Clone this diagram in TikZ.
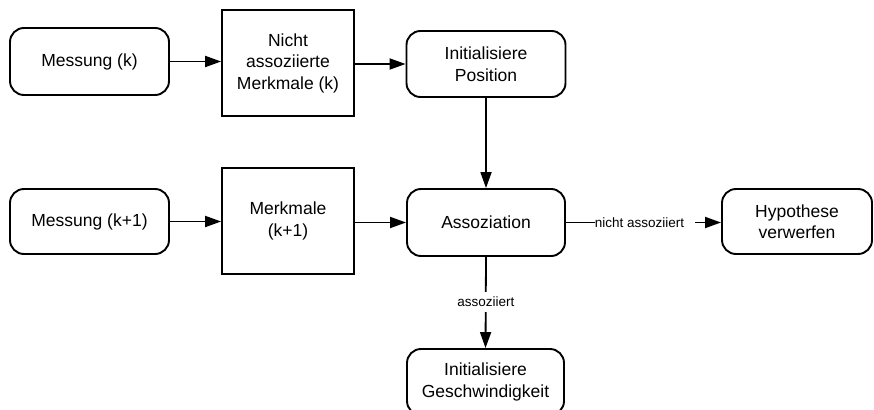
\documentclass[tikz,border=0pt]{standalone}
\usepackage{fontspec}
\setmainfont{Liberation Sans}
\usetikzlibrary{arrows.meta}
\begin{document}
\begin{tikzpicture}[x=1pt,y=-1pt,
  every node/.style={font=\fontsize{17.5}{21.5}\selectfont, align=center, inner sep=0pt},
  roundbox/.style={draw, line width=1.9pt, rounded corners=14pt},
  sqbox/.style={draw, line width=1.8pt},
  flow/.style={line width=1.8pt, -{Triangle[length=16pt,width=11pt]}},
  lbl/.style={font=\fontsize{13.5}{16}\selectfont, fill=white, inner xsep=0pt, inner ysep=5pt}]
\useasboundingbox (0,0) rectangle (874,409);
\clip (0,0) rectangle (874,409);

% upper row
\node[roundbox, minimum width=159pt, minimum height=67pt] (m1) at (89.5,61.5) {Messung (k)};
\node[sqbox, minimum width=132pt, minimum height=106pt] (f1) at (288,63) {Nicht\\assoziierte\\Merkmale (k)};
\node[roundbox, minimum width=159pt, minimum height=66pt] (ip) at (486,64) {Initialisiere\\Position};

% lower row
\node[roundbox, minimum width=159pt, minimum height=65pt] (m2) at (89.5,221.5) {Messung (k+1)};
\node[sqbox, minimum width=132pt, minimum height=106pt] (f2) at (288,221) {Merkmale\\(k+1)};
\node[roundbox, minimum width=158pt, minimum height=67pt] (as) at (486,222.5) {Assoziation};
\node[roundbox, minimum width=150pt, minimum height=65pt] (hv) at (797,221.5) {Hypothese\\verwerfen};

% result at the bottom, running past the lower edge
\node[roundbox, minimum width=157pt, minimum height=66pt] (ig) at (485.5,382) {Initialisiere\\Geschwindigkeit};

% connectors
\draw[flow] (m1.east) -- (m1.east -| f1.west);
\draw[flow] (f1.east |- ip.west) -- (ip.west);
\draw[flow] (ip.south) -- (as.north);
\draw[flow] (m2.east) -- (m2.east -| f2.west);
\draw[flow] (f2.east |- as.west) -- (as.west);
\draw[flow] (as.east) -- node[lbl, anchor=west, pos=0.18] {nicht assoziiert\hspace{11pt}} (hv.west |- as.east);
\draw[flow] (as.south) -- node[lbl, pos=0.49] {assoziiert} (ig.north);
\end{tikzpicture}
\end{document}
